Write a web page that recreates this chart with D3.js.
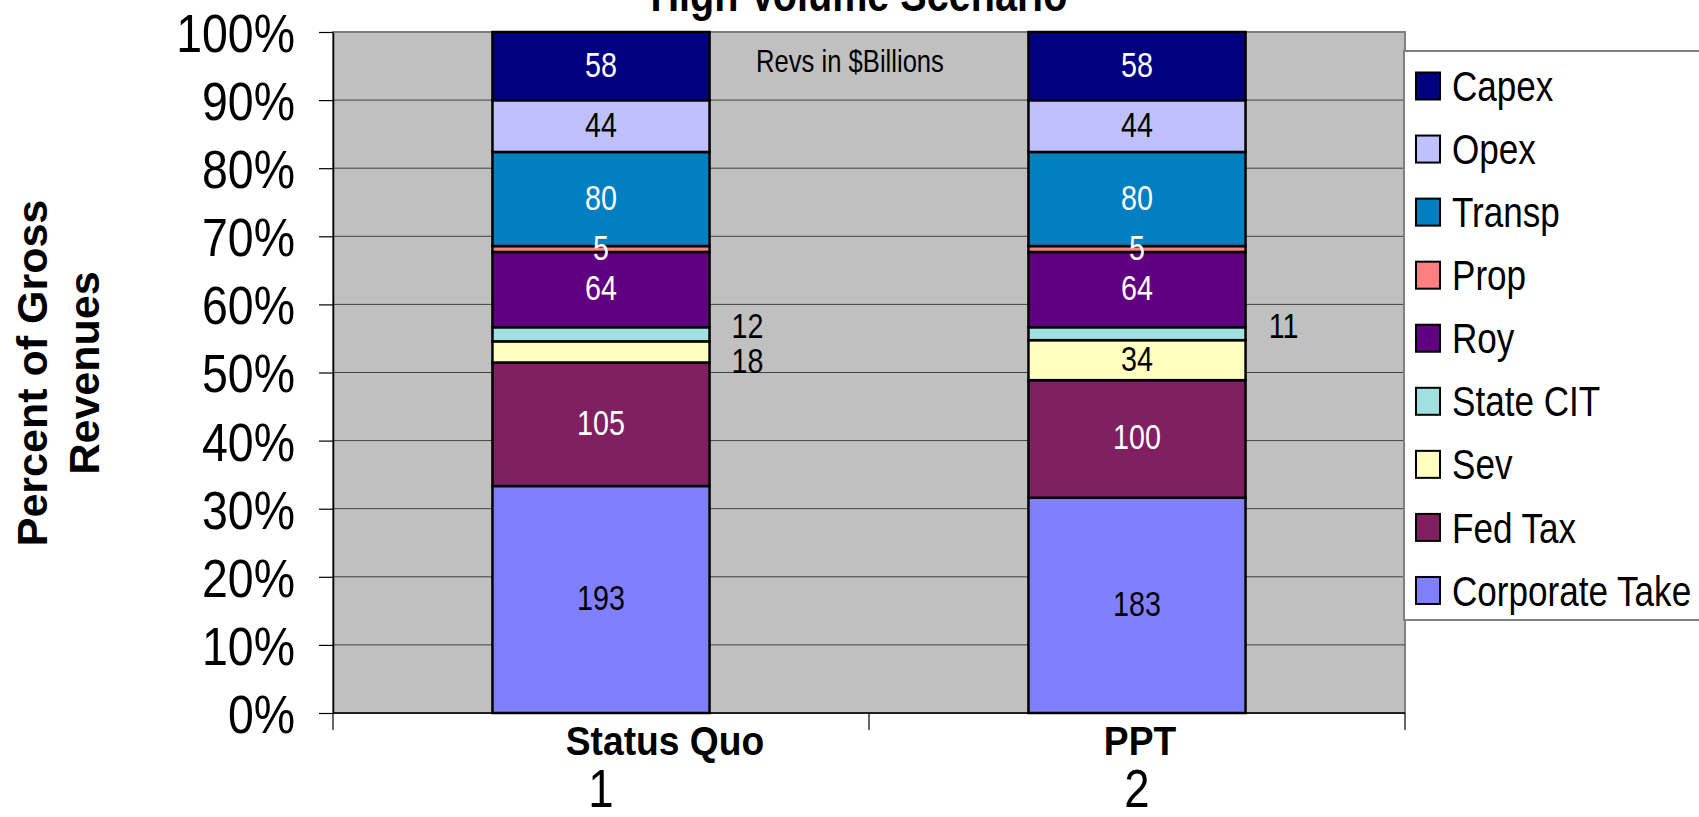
<!DOCTYPE html>
<html>
<head>
<meta charset="utf-8">
<script src="https://cdnjs.cloudflare.com/ajax/libs/d3/7.8.5/d3.min.js"></script>
<style>
body { margin: 0; background: #fff; overflow: hidden; }
text { font-family: "Liberation Sans", Arial, sans-serif; }
</style>
</head>
<body>
<script>
// data, bottom of the stack first
var categories = ["Status Quo", "PPT"];
var catNumbers = ["1", "2"];
var seriesNames = ["Corporate Take", "Fed Tax", "Sev", "State CIT", "Roy", "Prop", "Transp", "Opex", "Capex"];
var corporateTake = [193, 183];
var fedTax = [105, 100];
var sev = [18, 34];
var stateCit = [12, 11];
var roy = [64, 64];
var prop = [5, 5];
var transp = [80, 80];
var opex = [44, 44];
var capex = [58, 58];
var yTicks = [0, 0.1, 0.2, 0.3, 0.4, 0.5, 0.6, 0.7, 0.8, 0.9, 1];

var seriesValues = [corporateTake, fedTax, sev, stateCit, roy, prop, transp, opex, capex];
var colors = ["#8080ff", "#802060", "#ffffc0", "#a0e0e0", "#600080", "#ff8080", "#0080c0", "#c0c0ff", "#000080"];
var labelColors = ["#000", "#fff", "#000", "#000", "#fff", "#fff", "#fff", "#000", "#fff"];

// labels that sit beside the bar instead of inside it
var outsideLabels = [{series: "State CIT", category: "Status Quo", dy: -7},
                     {series: "Sev", category: "Status Quo", dy: 11},
                     {series: "State CIT", category: "PPT", dy: -6}];
var catLabelDx = [64, 3];

var w = 1699, h = 817;
var plot = {left: 333, right: 1405, top: 32, bottom: 713};

var table = categories.map(function(c, i) {
    var row = {category: c};
    seriesNames.forEach(function(s, j) { row[s] = seriesValues[j][i]; });
    return row;
});

var stacked = d3.stack().keys(seriesNames).offset(d3.stackOffsetExpand)(table);

var x = d3.scaleBand()
          .domain(categories)
          .range([plot.left, plot.right])
          .paddingInner(0.595)
          .paddingOuter(0.2975);

var y = d3.scaleLinear()
          .domain([0, 1])
          .range([plot.bottom, plot.top]);

var color = d3.scaleOrdinal().domain(seriesNames).range(colors);

// squeeze text sideways, the source picture is narrower than its fonts
function squeeze(sel, k) {
    sel.each(function() {
        var len = this.getComputedTextLength();
        d3.select(this).attr("textLength", len * k).attr("lengthAdjust", "spacingAndGlyphs");
    });
}

var svg = d3.select("body").append("svg")
            .attr("width", w)
            .attr("height", h);

svg.append("rect")
   .attr("x", plot.left)
   .attr("y", plot.top)
   .attr("width", plot.right - plot.left)
   .attr("height", plot.bottom - plot.top)
   .attr("fill", "#c0c0c0")
   .attr("stroke", "#808080")
   .attr("stroke-width", 2);

svg.append("g").selectAll("line")
   .data(yTicks.slice(1))
   .enter()
   .append("line")
   .attr("x1", plot.left)
   .attr("x2", plot.right)
   .attr("y1", function(d) { return y(d); })
   .attr("y2", function(d) { return y(d); })
   .attr("stroke", function(d) { return d === 1 ? "#808080" : "#404040"; })
   .attr("stroke-width", function(d) { return d === 1 ? 2 : 1; });

// bars
var layers = svg.append("g").selectAll("g")
                .data(stacked)
                .enter()
                .append("g")
                .attr("fill", function(d) { return color(d.key); });

layers.selectAll("rect")
      .data(function(d) { return d; })
      .enter()
      .append("rect")
      .attr("x", function(d) { return x(d.data.category); })
      .attr("y", function(d) { return y(d[1]); })
      .attr("width", x.bandwidth())
      .attr("height", function(d) { return y(d[0]) - y(d[1]); })
      .attr("stroke", "#000")
      .attr("stroke-width", 2.5);

// value labels
var labelSize = 35;
var labels = svg.append("g").attr("font-size", labelSize);
stacked.forEach(function(layer, j) {
    layer.forEach(function(d) {
        var cat = d.data.category;
        var out = outsideLabels.filter(function(o) { return o.series === layer.key && o.category === cat; })[0];
        var cy = (y(d[0]) + y(d[1])) / 2;
        var t = labels.append("text")
                      .attr("text-anchor", "middle")
                      .attr("dy", "0.3em")
                      .text(d.data[layer.key]);
        if (out) {
            t.attr("x", x(cat) + x.bandwidth() + 38)
             .attr("y", cy + out.dy)
             .attr("fill", "#000");
        } else {
            t.attr("x", x(cat) + x.bandwidth() / 2)
             .attr("y", cy)
             .attr("fill", labelColors[j]);
        }
    });
});
squeeze(labels.selectAll("text"), 0.82);

var note = svg.append("text")
              .attr("x", 850)
              .attr("y", 72)
              .attr("text-anchor", "middle")
              .attr("font-size", 32)
              .attr("fill", "#000")
              .text("Revs in $Billions");
squeeze(note, 0.8);

// y axis
var yAxis = svg.append("g")
               .attr("transform", "translate(" + plot.left + ",0)")
               .call(d3.axisLeft(y)
                       .tickValues(yTicks)
                       .tickFormat(d3.format(".0%"))
                       .tickSize(14)
                       .tickSizeOuter(0)
                       .tickPadding(24));
yAxis.attr("font-size", 54).attr("font-family", null);
yAxis.select(".domain").attr("stroke", "#000").attr("stroke-width", 1.5);
yAxis.selectAll(".tick line").attr("stroke", "#000").attr("stroke-width", 1.2);
yAxis.selectAll(".tick text").attr("dy", "0.36em").attr("fill", "#000");
squeeze(yAxis.selectAll(".tick text"), 0.86);

// x axis
svg.append("line")
   .attr("x1", plot.left)
   .attr("x2", plot.right)
   .attr("y1", plot.bottom)
   .attr("y2", plot.bottom)
   .attr("stroke", "#000")
   .attr("stroke-width", 1.5);

svg.append("g").selectAll("line")
   .data(d3.range(categories.length + 1))
   .enter()
   .append("line")
   .attr("x1", function(i) { return plot.left + i * x.step(); })
   .attr("x2", function(i) { return plot.left + i * x.step(); })
   .attr("y1", plot.bottom)
   .attr("y2", plot.bottom + 17)
   .attr("stroke", "#000")
   .attr("stroke-width", 1.2);

var catText = svg.append("g").selectAll("text")
                 .data(categories)
                 .enter()
                 .append("text")
                 .attr("x", function(d, i) { return x(d) + x.bandwidth() / 2 + catLabelDx[i]; })
                 .attr("y", 755)
                 .attr("text-anchor", "middle")
                 .attr("font-size", 40)
                 .attr("font-weight", "bold")
                 .text(function(d) { return d; });
squeeze(catText, 0.93);

var numText = svg.append("g").selectAll("text")
                 .data(categories)
                 .enter()
                 .append("text")
                 .attr("x", function(d) { return x(d) + x.bandwidth() / 2; })
                 .attr("y", 807)
                 .attr("text-anchor", "middle")
                 .attr("font-size", 53)
                 .text(function(d, i) { return catNumbers[i]; });
squeeze(numText, 0.86);

// titles
var title = svg.append("text")
               .attr("x", 859)
               .attr("y", 11)
               .attr("text-anchor", "middle")
               .attr("font-size", 46)
               .attr("font-weight", "bold")
               .text("High Volume Scenario");
squeeze(title, 0.86);

var yTitle = svg.append("g")
                .attr("font-size", 43)
                .attr("font-weight", "bold")
                .attr("text-anchor", "middle");
yTitle.append("text")
      .attr("transform", "translate(47,373) rotate(-90)")
      .text("Percent of Gross");
yTitle.append("text")
      .attr("transform", "translate(99,373) rotate(-90)")
      .text("Revenues");

// legend, top of the stack first
var legend = svg.append("g");
legend.append("rect")
      .attr("x", 1404)
      .attr("y", 51)
      .attr("width", 320)
      .attr("height", 569)
      .attr("fill", "#fff")
      .attr("stroke", "#808080")
      .attr("stroke-width", 2);

var items = legend.selectAll("g")
                  .data(seriesNames.slice().reverse())
                  .enter()
                  .append("g")
                  .attr("transform", function(d, i) { return "translate(0," + (86 + i * 63.06) + ")"; });

items.append("rect")
     .attr("x", 1416)
     .attr("y", -13.5)
     .attr("width", 24)
     .attr("height", 27)
     .attr("fill", function(d) { return color(d); })
     .attr("stroke", "#000")
     .attr("stroke-width", 2);

var legText = items.append("text")
                   .attr("x", 1452)
                   .attr("dy", "0.36em")
                   .attr("font-size", 42)
                   .text(function(d) { return d; });
squeeze(legText, 0.835);
</script>
</body>
</html>
